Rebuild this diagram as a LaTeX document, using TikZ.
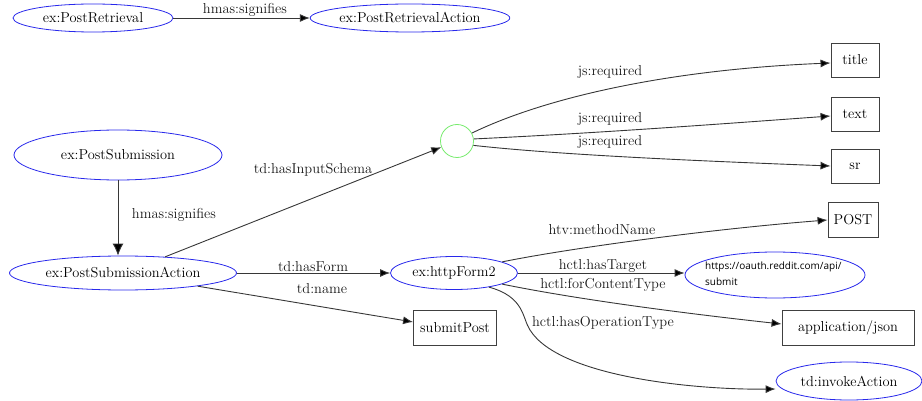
\documentclass[tikz,border=0pt]{standalone}
\usepackage{fontspec}
\newfontfamily\urlfont{Open Sans}
\usetikzlibrary{shapes.geometric,arrows.meta}
\definecolor{nodeblue}{RGB}{40,40,235}
\definecolor{nodegreen}{RGB}{120,235,110}
\definecolor{edgegray}{RGB}{55,55,55}
\tikzset{
  lbl/.style={font=\fontsize{14.4}{16}\selectfont, inner sep=0pt, text=black!90},
  ell/.style={ellipse, draw=nodeblue, line width=0.8pt, inner sep=0pt, font=\fontsize{14.4}{16}\selectfont},
  box/.style={rectangle, draw=black!75, line width=0.9pt, inner sep=0pt, font=\fontsize{14.4}{16}\selectfont},
  conn/.style={draw=edgegray, line width=0.9pt, -{Latex[length=10pt,width=8pt,fill=black]}},
}
\begin{document}
\begin{tikzpicture}[x=1pt,y=-1pt]
\useasboundingbox (0,0) rectangle (922,401);
% nodes
\node[ell, minimum width=160, minimum height=28] (pr) at (93,18) {ex:PostRetrieval};
\node[ell, minimum width=184, minimum height=28] (pra) at (410,18) {ex:PostRetrievalAction};
\node[ell, minimum width=208, minimum height=50] (ps) at (118,155) {ex:PostSubmission};
\node[ell, minimum width=227, minimum height=34] (psa) at (123,273) {ex:PostSubmissionAction};
\node[circle, draw=nodegreen, line width=0.8pt, minimum size=33, inner sep=0pt] (c) at (457,141) {};
\node[box, minimum width=48, minimum height=34] (title) at (855,60) {title};
\node[box, minimum width=48, minimum height=34] (text) at (855,114) {text};
\node[box, minimum width=48, minimum height=34] (sr) at (855,166) {sr};
\node[ell, minimum width=127, minimum height=33] (hf) at (454,273) {ex:httpForm2};
\node[box, minimum width=83, minimum height=35] (sp) at (455,328) {submitPost};
\node[box, minimum width=50, minimum height=35] (post) at (853,220) {POST};
\node[ell, minimum width=180, minimum height=46] (url) at (775,275) {};
\node[font=\urlfont\fontsize{10}{16}\selectfont, align=left, inner sep=0pt, anchor=north west] (urltext) at (705,262) {https://oauth.reddit.com/api/\\submit};
\node[box, minimum width=132, minimum height=35] (aj) at (848,328) {application/json};
\node[ell, minimum width=146, minimum height=38] (ia) at (849,381) {td:invokeAction};
% edges
\draw[conn] (pr) -- (pra);
\node[lbl] (l1) at (245,10) {hmas:signifies};
\draw[conn, -{Latex[length=12pt,width=11pt,fill=black]}] (ps) -- (psa.north -| ps);
\node[lbl] (l2) at (174,215) {hmas:signifies};
\draw[conn] (psa.21) -- (c);
\node[lbl] (l3) at (313,170) {td:hasInputSchema};
\draw[conn] (psa) -- (hf);
\node[lbl] (l4) at (313,267) {td:hasForm};
\draw[conn] (psa.-10) -- (sp.west |- 0,322);
\node[lbl] (l5) at (322,289) {td:name};
\draw[conn] (c.28) .. controls (540,100) and (660,70) .. (title.west |- 0,63);
\node[lbl] (l6) at (610,72) {js:required};
\draw[conn] (c.7) .. controls (600,133) and (720,124) .. (text.west |- 0,116);
\node[lbl] (l7) at (610,119) {js:required};
\draw[conn] (c.-15) .. controls (560,155) and (700,161) .. (sr.west |- 0,166);
\node[lbl] (l8) at (610,142) {js:required};
\draw[conn] (hf.13) .. controls (560,250) and (700,230) .. (post.west);
\node[lbl] (l9) at (602,230) {htv:methodName};
\draw[conn] (hf) -- (url.west |- hf);
\node[lbl] (l10) at (603,266) {hctl:hasTarget};
\draw[conn] (hf.-13) .. controls (580,300) and (690,314) .. (aj.west |- 0,324);
\node[lbl] (l11) at (603,285) {hctl:forContentType};
\draw[conn] (hf.-22) .. controls (525,297) and (522,318) .. (530,330) .. controls (560,378) and (700,390) .. (ia.west |- 0,389);
\node[lbl] (l12) at (603,323) {hctl:hasOperationType};
\end{tikzpicture}
\end{document}
